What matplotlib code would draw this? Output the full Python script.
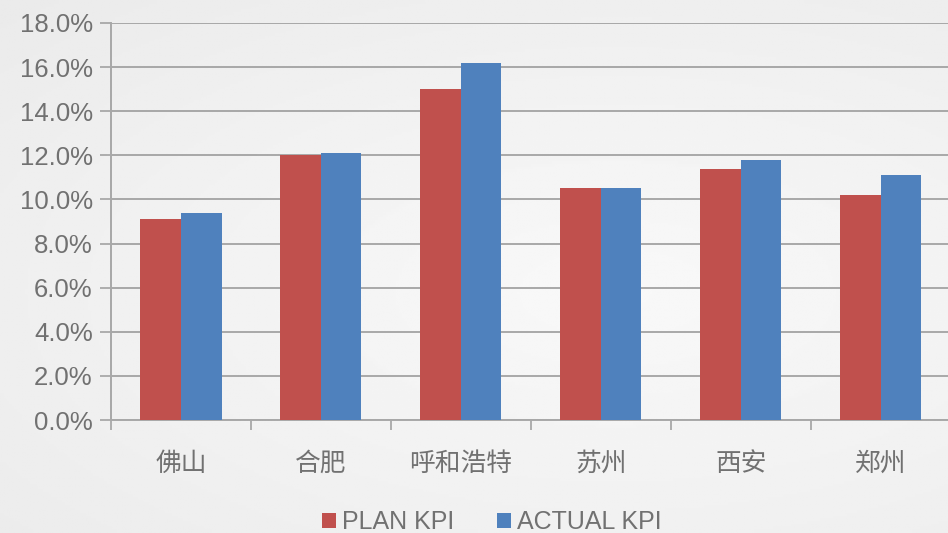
import numpy as np
import matplotlib
matplotlib.use("Agg")
import matplotlib.pyplot as plt
from matplotlib.ticker import FuncFormatter, MultipleLocator

plt.rcParams['font.family'] = ['Liberation Sans', 'Noto Sans CJK SC', 'DejaVu Sans']

cities = ['佛山', '合肥', '呼和浩特', '苏州', '西安', '郑州']
plan_kpi = [9.1, 12.0, 15.0, 10.5, 11.4, 10.2]
actual_kpi = [9.4, 12.1, 16.2, 10.5, 11.8, 11.1]

RED = '#C0504D'
BLUE = '#4F81BD'
TXT = '#717171'
GRID = '#a8a8a8'

fig = plt.figure(figsize=(9.48, 5.33), dpi=100)

# soft gray gradient behind everything
bg = fig.add_axes([0, 0, 1, 1], zorder=-10)
yy, xx = np.mgrid[0:1:200j, 0:1:360j]
shade = 0.975 - 0.06 * np.sqrt(((xx - 0.65) * 1.0) ** 2 + ((yy - 0.55) * 1.2) ** 2)
bg.imshow(shade, cmap='gray', vmin=0, vmax=1, aspect='auto', extent=[0, 1, 0, 1])
bg.axis('off')

ax = fig.add_axes([0.117, 0.212, 0.886, 0.745])
ax.patch.set_alpha(0)

x = np.arange(len(cities))
w = 0.29
ax.bar(x - w / 2, plan_kpi, w, color=RED, label='PLAN KPI', zorder=3)
ax.bar(x + w / 2, actual_kpi, w, color=BLUE, label='ACTUAL KPI', zorder=3)

ax.set_xlim(-0.5, len(cities) - 0.5)
ax.set_ylim(0, 18)
ax.yaxis.set_major_locator(MultipleLocator(2))
ax.yaxis.set_major_formatter(FuncFormatter(lambda v, p: f'{v:.1f}%'))
ax.grid(axis='y', color=GRID, linewidth=1.4, zorder=0)

ax.set_xticks(x)
ax.set_xticklabels(cities)
ax.set_xticks(np.arange(-0.5, len(cities)), minor=True)
ax.tick_params(axis='x', which='major', length=0, pad=23, labelsize=18.5, labelcolor=TXT)
ax.tick_params(axis='x', which='minor', length=7, width=1.3, color=GRID, direction='out')
ax.tick_params(axis='y', length=8, width=1.3, color=GRID, pad=5, labelsize=18.5, labelcolor=TXT)

for side in ['top', 'right']:
    ax.spines[side].set_visible(False)
for side in ['left', 'bottom']:
    ax.spines[side].set_color(GRID)
    ax.spines[side].set_linewidth(1.4)

leg = fig.legend(loc='lower center', bbox_to_anchor=(0.519, -0.045), ncol=2, frameon=False,
                 fontsize=18, handlelength=0.55, handleheight=0.55, handletextpad=0.25,
                 columnspacing=1.7, labelcolor=TXT)

fig.savefig('out.png', dpi=100)
